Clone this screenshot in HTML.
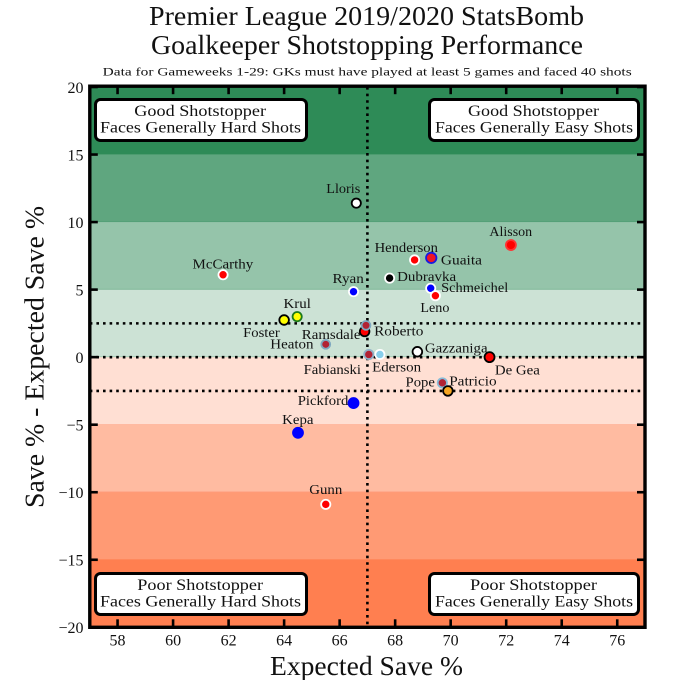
<!DOCTYPE html>
<html>
<head>
<meta charset="utf-8">
<title>Premier League 2019/2020 StatsBomb Goalkeeper Shotstopping Performance</title>
<style>
html,body{margin:0;padding:0;background:#fff;}
svg{display:block;}
text{font-family:"Liberation Serif",serif;fill:#111;}
</style>
</head>
<body>
<svg id="chart" xmlns="http://www.w3.org/2000/svg" width="673" height="680" viewBox="0 0 673 680">
  <text x="149" y="25" font-size="27" textLength="435" lengthAdjust="spacingAndGlyphs">Premier League 2019/2020 StatsBomb</text>
  <text x="151" y="54" font-size="27" textLength="432" lengthAdjust="spacingAndGlyphs">Goalkeeper Shotstopping Performance</text>
  <text x="102.7" y="75.5" font-size="12" textLength="529" lengthAdjust="spacingAndGlyphs">Data for Gameweeks 1-29: GKs must have played at least 5 games and faced 40 shots</text>
  <g id="bands"></g>
  <g id="refs"></g>
  <g id="points"></g>
  <g id="labels"></g>

  <g>
    <rect x="95.5" y="99.5" width="211" height="41" rx="5" fill="#fff" stroke="#000" stroke-width="3"/>
    <text x="134.3" y="116" font-size="15.5" textLength="131.7" lengthAdjust="spacingAndGlyphs">Good Shotstopper</text>
    <text x="100" y="132.7" font-size="15.5" textLength="201" lengthAdjust="spacingAndGlyphs">Faces Generally Hard Shots</text>
  </g>
  <g>
    <rect x="429.5" y="99.5" width="209" height="41" rx="5" fill="#fff" stroke="#000" stroke-width="3"/>
    <text x="468" y="116" font-size="15.5" textLength="131" lengthAdjust="spacingAndGlyphs">Good Shotstopper</text>
    <text x="435" y="132.7" font-size="15.5" textLength="198" lengthAdjust="spacingAndGlyphs">Faces Generally Easy Shots</text>
  </g>
  <g>
    <rect x="95.5" y="573.5" width="211" height="41" rx="5" fill="#fff" stroke="#000" stroke-width="3"/>
    <text x="137.3" y="590" font-size="15.5" textLength="125.7" lengthAdjust="spacingAndGlyphs">Poor Shotstopper</text>
    <text x="100" y="606.7" font-size="15.5" textLength="201" lengthAdjust="spacingAndGlyphs">Faces Generally Hard Shots</text>
  </g>
  <g>
    <rect x="429.5" y="573.5" width="209" height="41" rx="5" fill="#fff" stroke="#000" stroke-width="3"/>
    <text x="470" y="590" font-size="15.5" textLength="127" lengthAdjust="spacingAndGlyphs">Poor Shotstopper</text>
    <text x="435" y="606.7" font-size="15.5" textLength="198" lengthAdjust="spacingAndGlyphs">Faces Generally Easy Shots</text>
  </g>

  <g id="axes"></g>
  <text x="270" y="675" font-size="27" textLength="193" lengthAdjust="spacingAndGlyphs">Expected Save %</text>
  <text transform="translate(43.5 508) rotate(-90)" x="0" y="0" font-size="27" textLength="302" lengthAdjust="spacingAndGlyphs">Save % - Expected Save %</text>
</svg>
<script>
const goalkeepers = ["Lloris","McCarthy","Alisson","Henderson","Guaita","Dubravka","Schmeichel","Leno","Ryan","Krul","Foster","Roberto","Ramsdale","Heaton","Fabianski","Ederson","Gazzaniga","De Gea","Pope","Patricio","Pickford","Kepa","Gunn"];
const expectedSave = [66.6,61.8,72.17,68.7,69.3,67.8,69.28,69.45,66.5,64.47,64.0,66.9,66.95,65.5,67.05,67.45,68.8,71.4,69.7,69.9,66.5,64.5,65.5];
const saveDiff = [11.4,6.1,8.3,7.2,7.35,5.85,5.1,4.55,4.85,3.0,2.75,1.9,2.35,0.95,0.2,0.2,0.4,0,-1.9,-2.5,-3.4,-5.6,-10.9];
const xTicks = [58,60,62,64,66,68,70,72,74,76];
const yTicks = [20,15,10,5,0,-5,-10,-15,-20];
const bandEdges = [20,15,10,5,0,-5,-10,-15,-20];
const refY = [2.5,0,-2.5];
const refX = [67];

const NS = "http://www.w3.org/2000/svg";
const X0 = 57, X1 = 77, Y0 = -20, Y1 = 20;
const PL = 89.8, PR = 645, PT = 87, PB = 627.3;
function sx(v){ return PL + (v - X0) * (PR - PL) / (X1 - X0); }
function sy(v){ return PB - (v - Y0) * (PB - PT) / (Y1 - Y0); }
function mk(tag, parent, attrs){
  const el = document.createElementNS(NS, tag);
  for (const k in attrs) el.setAttribute(k, attrs[k]);
  parent.appendChild(el);
  return el;
}

function drawBands(){
  const g = document.getElementById("bands");
  const fills = ["#2e8b57","#5fa67f","#95c4aa","#cce2d5","#ffdfd3","#ffbba1","#ff9a74","#ff7f50"];
  const edges = ["none","#4f9c74","#6fae8c","#9cc8af","#ffb9a2","#ff9e7d","#ff8a60","none"];
  for (let i = 0; i < bandEdges.length - 1; i++) {
    const top = sy(bandEdges[i]), bot = sy(bandEdges[i + 1]);
    const r = mk("rect", g, {x: PL, y: top, width: PR - PL, height: bot - top, fill: fills[i]});
    
    
    if (edges[i] !== "none") {
      const e = mk("line", g, {x1: PL, x2: PR, y1: bot, y2: bot, stroke: edges[i], "stroke-width": 1.5});
      
      
    }
  }
}

function drawRefs(){
  const g = document.getElementById("refs");
  refY.forEach(function(v){
    const l = mk("line", g, {x1: PL, x2: PR, y1: sy(v), y2: sy(v), stroke: "#000", "stroke-width": 2.6, "stroke-dasharray": "2.6 4"});
    
    
  });
  refX.forEach(function(v){
    const l = mk("line", g, {x1: sx(v), x2: sx(v), y1: PT, y2: PB, stroke: "#000", "stroke-width": 2.6, "stroke-dasharray": "2.6 4"});
    
    
  });
}

function drawPoints(){
  const style = {
    "Lloris":{f:"#fff",e:"#000",r:4.6}, "McCarthy":{f:"#f00",e:"#fff",r:4.6},
    "Alisson":{f:"#f00",e:"#f33",r:5}, "Henderson":{f:"#f00",e:"#fff",r:4.6},
    "Guaita":{f:"#f01525",e:"#1a1ae0",r:5.2}, "Dubravka":{f:"#000",e:"#fff",r:4.6},
    "Schmeichel":{f:"#00f",e:"#fff",r:4.6}, "Leno":{f:"#f00",e:"#fff",r:4.6},
    "Ryan":{f:"#00f",e:"#fff",r:4.6}, "Krul":{f:"#ff0",e:"#1a7a1a",r:4.6},
    "Foster":{f:"#ff0",e:"#000",r:4.8}, "Roberto":{f:"#f00",e:"#000",r:4.8},
    "Ramsdale":{f:"#b22234",e:"#7fa8c0",r:4.4}, "Heaton":{f:"#b22234",e:"#7fa8c0",r:4.4},
    "Fabianski":{f:"#b22234",e:"#8fb0c8",r:4.6}, "Ederson":{f:"#87ceeb",e:"#fff",r:4.6},
    "Gazzaniga":{f:"#fff",e:"#000",r:4.8}, "De Gea":{f:"#f00",e:"#000",r:5},
    "Pope":{f:"#b22234",e:"#87bcd8",r:4.6}, "Patricio":{f:"#f5a623",e:"#000",r:4.8},
    "Pickford":{f:"#00f",e:"#00f",r:5}, "Kepa":{f:"#00f",e:"#00f",r:5},
    "Gunn":{f:"#f00",e:"#fff",r:4.6}
  };
  const g = document.getElementById("points");
  goalkeepers.forEach(function(name, i){
    const s = style[name];
    const c = mk("circle", g, {cx: sx(expectedSave[i]), cy: sy(saveDiff[i]), r: s.r, fill: s.f, stroke: s.e, "stroke-width": 1.8});
    
    
  });
}

function drawLabels(){
  const off = {
    "Lloris":[-30,-10,34], "McCarthy":[-30.5,-6.5,60.7], "Alisson":[-21.5,-9,42.7],
    "Henderson":[-40,-7.7,63.3], "Guaita":[9.7,6.7,41], "Dubravka":[7.5,3,59],
    "Schmeichel":[10.5,3.7,67], "Leno":[-15,16.3,29], "Ryan":[-21,-8.8,31.3],
    "Krul":[-13.7,-8.5,27.4], "Foster":[-41,17,36.6], "Roberto":[9.5,4.2,49.3],
    "Ramsdale":[-64.2,13.8,58.7], "Heaton":[-55.5,4.3,43.3], "Fabianski":[-65.2,19.5,57.4],
    "Ederson":[-7.8,17.2,49], "Gazzaniga":[7.5,0.8,62.7], "De Gea":[5.3,17.5,45],
    "Pope":[-36.8,3.5,29.3], "Patricio":[1.3,-5.5,47.4], "Pickford":[-55.8,2,50.6],
    "Kepa":[-15.8,-8.7,31.3], "Gunn":[-16.5,-10.5,33]
  };
  const g = document.getElementById("labels");
  goalkeepers.forEach(function(name, i){
    const o = off[name];
    const t = mk("text", g, {x: sx(expectedSave[i]) + o[0], y: sy(saveDiff[i]) + o[1], "font-size": 13.5, textLength: o[2], lengthAdjust: "spacingAndGlyphs", fill: "#222"});
    
    
    t.textContent = name;
  });
}

function drawAxes(){
  const g = document.getElementById("axes");
  const frame = mk("rect", g, {x: PL, y: 86.2, width: PR - PL, height: PB - 86.2, fill: "none", stroke: "#000", "stroke-width": 3.4});
  
  
  xTicks.forEach(function(v){
    const b = mk("line", g, {x1: sx(v), x2: sx(v), y1: PB, y2: PB - 8, stroke: "#000", "stroke-width": 2.6});
    
    
    const u = mk("line", g, {x1: sx(v), x2: sx(v), y1: 86.2, y2: 94.2, stroke: "#000", "stroke-width": 2.6});
    
    
    const t = mk("text", g, {x: sx(v), y: 645.7, "font-size": 16, "text-anchor": "middle", fill: "#222"});
    
    
    t.textContent = v;
  });
  yTicks.forEach(function(v){
    const l = mk("line", g, {x1: PL, x2: PL + 8, y1: sy(v), y2: sy(v), stroke: "#000", "stroke-width": 2.6});
    
    
    const r = mk("line", g, {x1: PR, x2: PR - 8, y1: sy(v), y2: sy(v), stroke: "#000", "stroke-width": 2.6});
    
    
    const t = mk("text", g, {x: 83.5, y: sy(v) + 5.8, "font-size": 16, "text-anchor": "end", fill: "#222"});
    
    
    t.textContent = v < 0 ? "\u2212" + Math.abs(v) : String(v);
  });
}

drawBands();
drawRefs();
drawPoints();
drawLabels();
drawAxes();
</script>
</body>
</html>
